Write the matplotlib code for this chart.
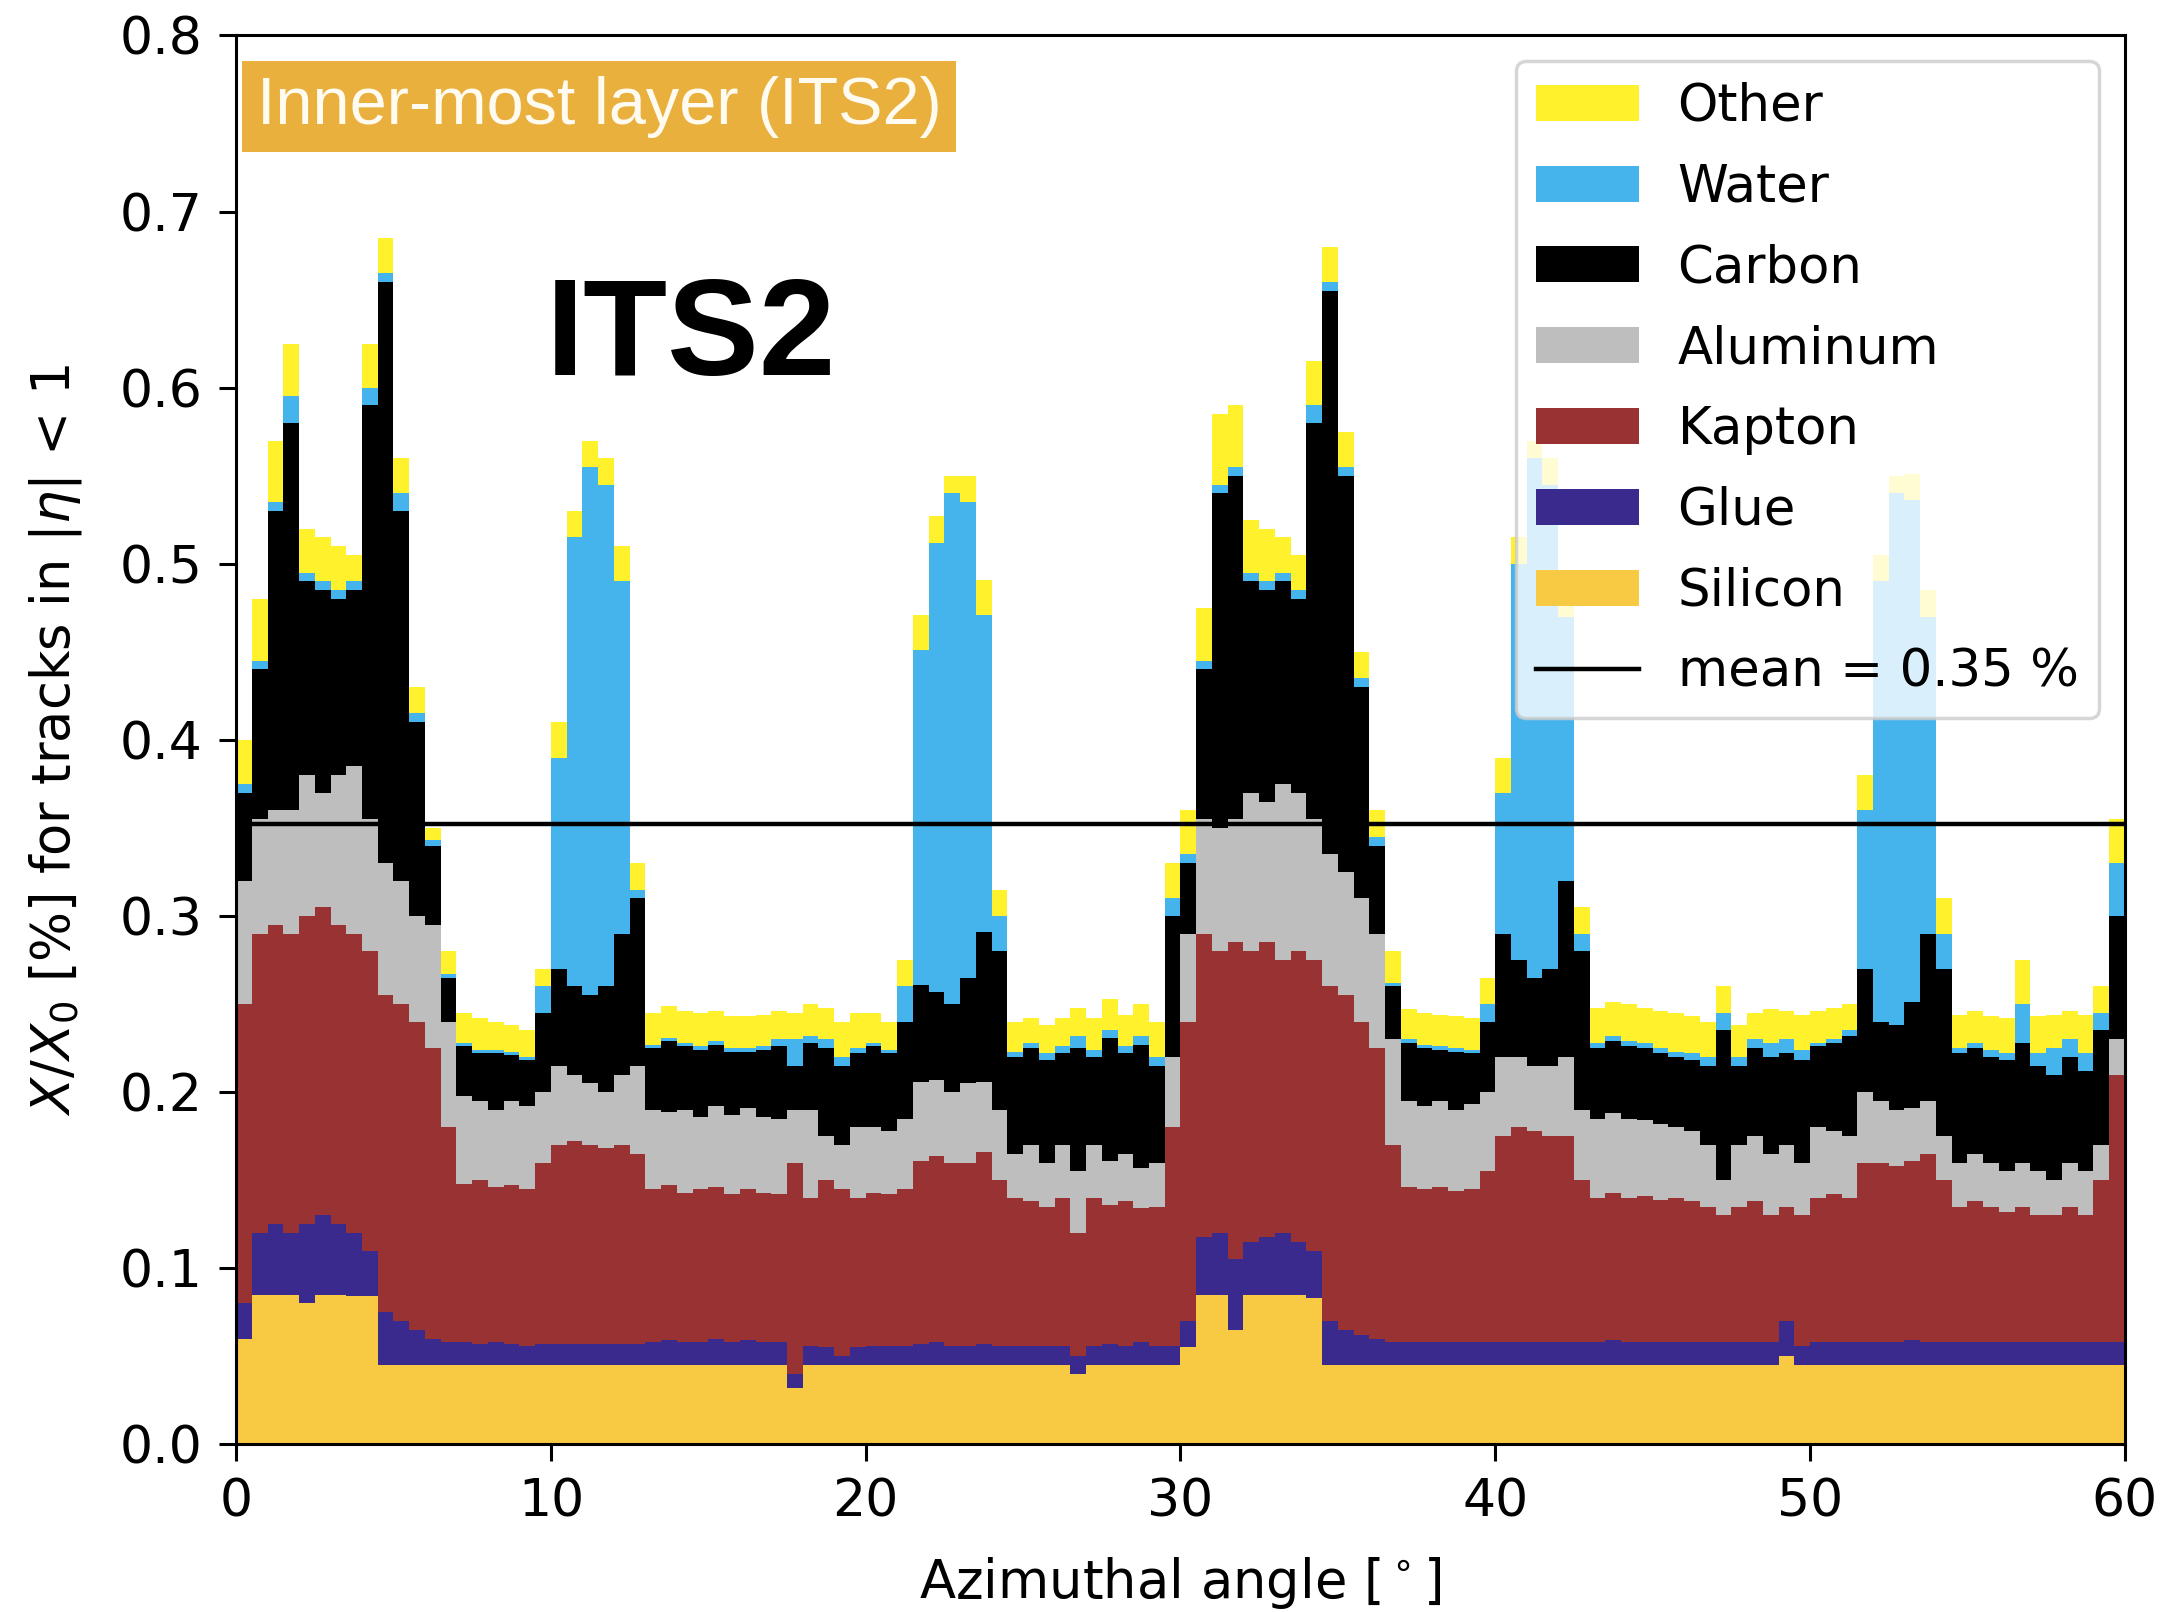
import numpy as np
import matplotlib
matplotlib.use("Agg")
import matplotlib.pyplot as plt
from matplotlib.patches import Patch
from matplotlib.lines import Line2D

# one 60 deg sector, 0.5 deg bins
phi_min, phi_max, n_bins = 0.0, 60.0, 120

# X/X0 [%] per material, one value per bin (each row = 5 deg)
silicon = [
    0.060, 0.085, 0.085, 0.085, 0.080, 0.085, 0.085, 0.084, 0.084, 0.045,
    0.045, 0.045, 0.045, 0.045, 0.045, 0.045, 0.045, 0.045, 0.045, 0.045,
    0.045, 0.045, 0.045, 0.045, 0.045, 0.045, 0.045, 0.045, 0.045, 0.045,
    0.045, 0.045, 0.045, 0.045, 0.045, 0.032, 0.045, 0.045, 0.045, 0.045,
    0.045, 0.045, 0.045, 0.045, 0.045, 0.045, 0.045, 0.045, 0.045, 0.045,
    0.045, 0.045, 0.045, 0.040, 0.045, 0.045, 0.045, 0.045, 0.045, 0.045,
    0.055, 0.085, 0.085, 0.065, 0.085, 0.085, 0.085, 0.085, 0.083, 0.045,
    0.045, 0.045, 0.045, 0.045, 0.045, 0.045, 0.045, 0.045, 0.045, 0.045,
    0.045, 0.045, 0.045, 0.045, 0.045, 0.045, 0.045, 0.045, 0.045, 0.045,
    0.045, 0.045, 0.045, 0.045, 0.045, 0.045, 0.045, 0.045, 0.050, 0.045,
    0.045, 0.045, 0.045, 0.045, 0.045, 0.045, 0.045, 0.045, 0.045, 0.045,
    0.045, 0.045, 0.045, 0.045, 0.045, 0.045, 0.045, 0.045, 0.045, 0.045,
]
glue = [
    0.020, 0.035, 0.040, 0.035, 0.045, 0.045, 0.040, 0.036, 0.026, 0.030,
    0.025, 0.020, 0.015, 0.013, 0.013, 0.012, 0.013, 0.012, 0.011, 0.012,
    0.012, 0.012, 0.012, 0.012, 0.012, 0.012, 0.013, 0.014, 0.013, 0.013,
    0.015, 0.013, 0.014, 0.013, 0.013, 0.008, 0.011, 0.010, 0.005, 0.010,
    0.011, 0.011, 0.011, 0.012, 0.013, 0.011, 0.011, 0.012, 0.011, 0.011,
    0.011, 0.011, 0.011, 0.010, 0.011, 0.012, 0.011, 0.013, 0.011, 0.011,
    0.015, 0.033, 0.035, 0.040, 0.030, 0.033, 0.035, 0.030, 0.027, 0.025,
    0.020, 0.017, 0.015, 0.013, 0.013, 0.013, 0.013, 0.013, 0.013, 0.013,
    0.013, 0.013, 0.013, 0.013, 0.013, 0.013, 0.013, 0.014, 0.013, 0.013,
    0.013, 0.013, 0.013, 0.013, 0.013, 0.013, 0.013, 0.013, 0.020, 0.011,
    0.013, 0.013, 0.013, 0.013, 0.013, 0.013, 0.014, 0.013, 0.013, 0.013,
    0.013, 0.013, 0.013, 0.013, 0.013, 0.013, 0.013, 0.013, 0.013, 0.013,
]
kapton = [
    0.170, 0.170, 0.170, 0.170, 0.175, 0.175, 0.170, 0.170, 0.170, 0.180,
    0.180, 0.175, 0.165, 0.122, 0.090, 0.093, 0.088, 0.090, 0.089, 0.103,
    0.113, 0.115, 0.113, 0.111, 0.113, 0.108, 0.087, 0.088, 0.085, 0.087,
    0.086, 0.084, 0.086, 0.085, 0.084, 0.120, 0.084, 0.095, 0.095, 0.085,
    0.087, 0.086, 0.089, 0.104, 0.106, 0.104, 0.104, 0.109, 0.094, 0.084,
    0.082, 0.079, 0.084, 0.070, 0.084, 0.079, 0.082, 0.076, 0.079, 0.124,
    0.170, 0.172, 0.160, 0.180, 0.165, 0.167, 0.155, 0.165, 0.165, 0.190,
    0.190, 0.178, 0.165, 0.112, 0.088, 0.087, 0.088, 0.086, 0.087, 0.097,
    0.117, 0.122, 0.120, 0.117, 0.117, 0.092, 0.082, 0.084, 0.082, 0.083,
    0.081, 0.082, 0.080, 0.077, 0.072, 0.077, 0.080, 0.072, 0.065, 0.074,
    0.082, 0.084, 0.082, 0.102, 0.102, 0.100, 0.102, 0.107, 0.092, 0.077,
    0.080, 0.077, 0.074, 0.077, 0.072, 0.072, 0.077, 0.072, 0.092, 0.152,
]
aluminum = [
    0.070, 0.065, 0.065, 0.070, 0.080, 0.065, 0.085, 0.095, 0.075, 0.075,
    0.070, 0.060, 0.070, 0.060, 0.050, 0.045, 0.044, 0.048, 0.047, 0.040,
    0.045, 0.038, 0.035, 0.032, 0.040, 0.050, 0.045, 0.042, 0.047, 0.041,
    0.046, 0.045, 0.046, 0.043, 0.043, 0.030, 0.050, 0.025, 0.025, 0.040,
    0.037, 0.036, 0.040, 0.045, 0.043, 0.040, 0.045, 0.040, 0.040, 0.025,
    0.032, 0.025, 0.030, 0.035, 0.030, 0.025, 0.027, 0.023, 0.025, 0.040,
    0.050, 0.065, 0.070, 0.070, 0.090, 0.080, 0.100, 0.090, 0.080, 0.075,
    0.070, 0.070, 0.065, 0.060, 0.049, 0.047, 0.049, 0.046, 0.048, 0.045,
    0.045, 0.040, 0.037, 0.040, 0.045, 0.040, 0.045, 0.045, 0.045, 0.043,
    0.043, 0.040, 0.040, 0.035, 0.020, 0.035, 0.037, 0.035, 0.035, 0.030,
    0.040, 0.036, 0.035, 0.040, 0.035, 0.032, 0.030, 0.030, 0.025, 0.025,
    0.027, 0.025, 0.023, 0.025, 0.025, 0.020, 0.025, 0.025, 0.020, 0.020,
]
carbon = [
    0.050, 0.085, 0.170, 0.220, 0.110, 0.115, 0.100, 0.100, 0.235, 0.330,
    0.210, 0.110, 0.045, 0.025, 0.028, 0.027, 0.032, 0.026, 0.026, 0.045,
    0.055, 0.050, 0.050, 0.060, 0.080, 0.095, 0.035, 0.040, 0.036, 0.038,
    0.035, 0.036, 0.032, 0.038, 0.041, 0.025, 0.038, 0.050, 0.045, 0.042,
    0.046, 0.044, 0.055, 0.055, 0.050, 0.050, 0.060, 0.085, 0.090, 0.055,
    0.055, 0.058, 0.052, 0.070, 0.050, 0.070, 0.057, 0.070, 0.055, 0.080,
    0.040, 0.085, 0.190, 0.195, 0.120, 0.120, 0.115, 0.110, 0.225, 0.320,
    0.225, 0.120, 0.050, 0.030, 0.033, 0.033, 0.029, 0.033, 0.029, 0.040,
    0.070, 0.055, 0.050, 0.055, 0.100, 0.090, 0.040, 0.041, 0.041, 0.041,
    0.040, 0.040, 0.040, 0.045, 0.085, 0.045, 0.050, 0.055, 0.052, 0.058,
    0.046, 0.050, 0.057, 0.070, 0.045, 0.048, 0.060, 0.095, 0.095, 0.062,
    0.060, 0.060, 0.063, 0.068, 0.060, 0.060, 0.060, 0.057, 0.065, 0.070,
]
water = [
    0.005, 0.005, 0.005, 0.015, 0.005, 0.005, 0.005, 0.005, 0.010, 0.005,
    0.010, 0.005, 0.003, 0.002, 0.002, 0.002, 0.002, 0.002, 0.002, 0.015,
    0.120, 0.255, 0.300, 0.285, 0.200, 0.005, 0.002, 0.002, 0.002, 0.002,
    0.002, 0.002, 0.002, 0.002, 0.004, 0.015, 0.004, 0.005, 0.005, 0.003,
    0.002, 0.002, 0.020, 0.190, 0.255, 0.290, 0.270, 0.180, 0.020, 0.003,
    0.003, 0.004, 0.004, 0.007, 0.004, 0.004, 0.004, 0.005, 0.005, 0.010,
    0.005, 0.005, 0.005, 0.005, 0.005, 0.005, 0.005, 0.005, 0.010, 0.005,
    0.005, 0.005, 0.005, 0.002, 0.002, 0.002, 0.002, 0.002, 0.002, 0.010,
    0.080, 0.225, 0.295, 0.275, 0.150, 0.010, 0.003, 0.003, 0.003, 0.003,
    0.003, 0.003, 0.004, 0.005, 0.010, 0.005, 0.005, 0.008, 0.008, 0.006,
    0.002, 0.002, 0.003, 0.090, 0.250, 0.302, 0.285, 0.180, 0.020, 0.003,
    0.003, 0.004, 0.004, 0.022, 0.007, 0.015, 0.010, 0.010, 0.010, 0.030,
]
other = [
    0.025, 0.035, 0.035, 0.030, 0.025, 0.025, 0.025, 0.015, 0.025, 0.020,
    0.020, 0.015, 0.007, 0.013, 0.017, 0.018, 0.016, 0.015, 0.015, 0.010,
    0.020, 0.015, 0.015, 0.015, 0.020, 0.015, 0.018, 0.018, 0.018, 0.019,
    0.017, 0.018, 0.018, 0.018, 0.016, 0.015, 0.018, 0.018, 0.020, 0.020,
    0.017, 0.016, 0.015, 0.020, 0.015, 0.010, 0.015, 0.020, 0.015, 0.017,
    0.014, 0.016, 0.016, 0.016, 0.018, 0.018, 0.018, 0.018, 0.020, 0.020,
    0.025, 0.030, 0.040, 0.035, 0.030, 0.030, 0.020, 0.020, 0.025, 0.020,
    0.020, 0.015, 0.015, 0.018, 0.017, 0.018, 0.018, 0.018, 0.018, 0.015,
    0.020, 0.015, 0.010, 0.015, 0.020, 0.015, 0.020, 0.019, 0.021, 0.020,
    0.021, 0.022, 0.021, 0.020, 0.015, 0.018, 0.015, 0.019, 0.016, 0.020,
    0.018, 0.018, 0.015, 0.020, 0.015, 0.010, 0.015, 0.015, 0.020, 0.019,
    0.018, 0.019, 0.020, 0.025, 0.021, 0.019, 0.016, 0.022, 0.015, 0.025,
]

mean_xx0 = 0.352

# stacking order bottom -> top
materials = ["Silicon", "Glue", "Kapton", "Aluminum", "Carbon", "Water", "Other"]
layers = [silicon, glue, kapton, aluminum, carbon, water, other]
colors = ["#F8C943", "#3B2A8E", "#993333", "#BEBEBE", "#000000", "#46B4EC", "#FFF22C"]

edges = np.linspace(phi_min, phi_max, n_bins + 1)
tops = np.cumsum(np.array(layers), axis=0)

plt.rcParams["font.family"] = "DejaVu Sans"
plt.rcParams["axes.linewidth"] = 2.2

fig = plt.figure(figsize=(21.66, 16.12), dpi=100)
ax = fig.add_axes([0.109, 0.104, 0.872, 0.874])

# draw the cumulative fills from the top down so neighbouring layers never leave seams
for i in range(len(layers) - 1, -1, -1):
    ax.stairs(tops[i], edges, baseline=0, fill=True, color=colors[i], lw=0)

ax.axhline(mean_xx0, color="black", lw=3.2, zorder=5)

ax.set_xlim(phi_min, phi_max)
ax.set_ylim(0, 0.8)
ax.set_xticks(np.arange(0, 61, 10))
ax.set_yticks(np.arange(0, 0.81, 0.1))
ax.yaxis.set_major_formatter(matplotlib.ticker.FormatStrFormatter("%.1f"))
ax.tick_params(labelsize=37.5, length=12, width=2.2, pad=12)

ax.set_xlabel(r"Azimuthal angle [$^\circ$]", fontsize=38, labelpad=20)
ax.set_ylabel(r"$X/X_0$ [%] for tracks in $|\eta|$ < 1", fontsize=38, labelpad=26)

handles = [Patch(facecolor=colors[i], edgecolor="none", label=materials[i])
           for i in range(len(layers) - 1, -1, -1)]
handles.append(Line2D([], [], color="black", lw=3.2, label="mean = %.2f %%" % mean_xx0))
leg = ax.legend(handles=handles, loc="upper right", fontsize=37, labelspacing=0.6,
                framealpha=0.8, borderaxespad=0.5, handletextpad=0.75)
leg.get_frame().set_linewidth(2.5)

ax.text(0.65, 0.7595, "Inner-most layer (ITS2)", fontsize=48,
        family="Liberation Sans", color="#FFFBF0", va="center", ha="left",
        bbox=dict(boxstyle="square,pad=0.22", facecolor="#E9B03E", edgecolor="none"))

ax.text(9.85, 0.607, "ITS2", fontsize=99, family="Liberation Sans", weight="bold",
        color="black", ha="left", va="baseline")

fig.savefig("out.png", dpi=100)
